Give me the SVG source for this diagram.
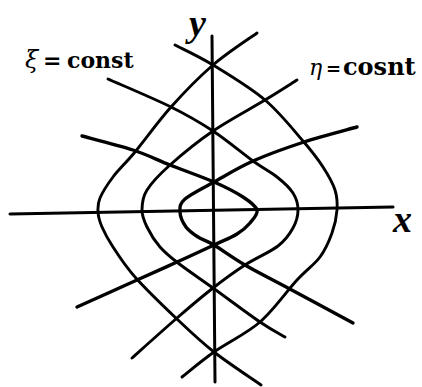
<svg xmlns="http://www.w3.org/2000/svg" width="422" height="387" viewBox="0 0 422 387">
<style>
.c{fill:none;stroke:#000;stroke-width:2.9;stroke-linecap:round;stroke-linejoin:round}
.ci{stroke-width:3.4}
.ax{fill:none;stroke:#000;stroke-width:3;stroke-linecap:round}
.lab{font-family:"DejaVu Serif","Liberation Serif",serif;font-weight:bold;fill:#000}
.gr{font-family:"DejaVu Serif","Liberation Serif",serif;font-style:italic;font-weight:normal}
.axl{font-family:"Liberation Serif","DejaVu Serif",serif;font-style:italic;font-weight:bold;fill:#000}
</style>
<rect width="422" height="387" fill="#fff"/>
<g id="axes">
<line class="ax" x1="10" y1="214" x2="393" y2="207"/>
<line class="ax" x1="212" y1="36" x2="215" y2="382"/>
<text class="axl" x="189" y="36" font-size="38">y</text>
<text class="axl" x="393" y="232" font-size="38">x</text>
</g>
<g id="connectors">
<path id="xi-outer" class="c" d="M175,45 C181.3,48.3 198,55.8 213,65 C228,74.2 250,87.3 265,100 C280,112.7 293.3,129.8 303,141 C312.7,152.2 317.7,158.8 323,167 C328.3,175.2 332.7,182.8 335,190 C337.3,197.2 337.5,202.8 337,210 C336.5,217.2 334.8,225.2 332,233 C329.2,240.8 325.8,249.2 320,257 C314.2,264.8 307,269.2 297,280 C287,290.8 273.8,310 260,322 C246.2,334 227,342.8 214,352 C201,361.2 187.3,372.8 182,377"/>
<path id="eta-outer" class="c" d="M257,33 C249.7,38.3 227.3,52.7 213,65 C198.7,77.3 184,92.5 171,107 C158,121.5 144.7,140.3 135,152 C125.3,163.7 118.8,169.3 113,177 C107.2,184.7 102.5,192.2 100,198 C97.5,203.8 97.7,207.2 98,212 C98.3,216.8 99.5,221.2 102,227 C104.5,232.8 107.5,238.7 113,247 C118.5,255.3 124.2,264.8 135,277 C145.8,289.2 164.8,307.5 178,320 C191.2,332.5 200.2,341.2 214,352 C227.8,362.8 253.2,379.5 261,385"/>
<path id="xi-middle" class="c" d="M108,79 C118.5,83.7 153.5,98.3 171,107 C188.5,115.7 199.3,122 213,131 C226.7,140 242.3,153.3 253,161 C263.7,168.7 270.3,171.7 277,177 C283.7,182.3 289.5,187.5 293,193 C296.5,198.5 298,204.2 298,210 C298,215.8 296.3,222 293,228 C289.7,234 286,239.8 278,246 C270,252.2 255.8,258 245,265 C234.2,272 224.3,279.2 213,288 C201.7,296.8 190.5,306.3 177,318 C163.5,329.7 139.5,351.3 132,358"/>
<path id="eta-middle" class="c" d="M297,80 C291.7,83.3 279,91.5 265,100 C251,108.5 228.8,120.2 213,131 C197.2,141.8 181,155.2 170,165 C159,174.8 151.7,182.5 147,190 C142.3,197.5 142,203.8 142,210 C142,216.2 144,220.8 147,227 C150,233.2 154.8,241 160,247 C165.2,253 169.2,256.2 178,263 C186.8,269.8 199.3,278.2 213,288 C226.7,297.8 248,313.8 260,322 C272,330.2 280.8,334.5 285,337"/>
<path id="xi-inner" class="c ci" d="M82,136 C90.5,138.3 118.3,145.2 133,150 C147.7,154.8 156.5,159.7 170,165 C183.5,170.3 201.8,176.7 214,182 C226.2,187.3 235.8,192.3 243,197 C250.2,201.7 255.8,205.7 257,210 C258.2,214.3 253.3,219 250,223 C246.7,227 243,230.3 237,234 C231,237.7 224,240.3 214,245 C204,249.7 189.8,256.2 177,262 C164.2,267.8 153.7,272.5 137,280 C120.3,287.5 87,302.5 77,307"/>
<path id="eta-inner" class="c ci" d="M357,127 C348.2,129.5 321.3,136.3 304,142 C286.7,147.7 268,154.3 253,161 C238,167.7 225.3,175.7 214,182 C202.7,188.3 190.7,194 185,199 C179.3,204 179.8,207.3 180,212 C180.2,216.7 183,222.8 186,227 C189,231.2 193.3,234 198,237 C202.7,240 206.2,240.3 214,245 C221.8,249.7 232.7,257.8 245,265 C257.3,272.2 270,278.3 288,288 C306,297.7 342.2,317.2 353,323"/>
</g>
<g id="label-xi">
<text class="lab" x="25" y="68" font-size="22"><tspan class="gr" font-size="24">ξ</tspan><tspan x="43">=</tspan><tspan x="67">const</tspan></text>
</g>
<g id="label-eta">
<text class="lab" x="309" y="75" font-size="24"><tspan class="gr" font-size="22">η</tspan><tspan x="326" font-size="18">=</tspan><tspan x="343">cosnt</tspan></text>
</g>
</svg>
